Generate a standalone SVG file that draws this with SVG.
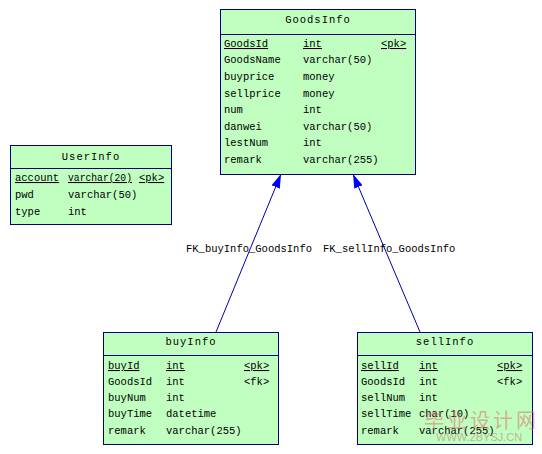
<svg xmlns="http://www.w3.org/2000/svg" width="542" height="454" viewBox="0 0 542 454">
<defs>
<style>
.box{fill:#c0ffc0;stroke:#000080;stroke-width:1}
.sep{stroke:#000080;stroke-width:1}
text{font-family:"Liberation Mono","DejaVu Sans Mono",monospace;font-size:10.5px;fill:#000}
.t{text-anchor:middle;letter-spacing:1px}
.u{text-decoration:underline}
.c{stroke:#0000a0;stroke-width:1;fill:none}
.wm{font-family:"Noto Sans CJK SC",sans-serif;font-size:20px;fill:#e07070;opacity:0.55}
.wm2{font-family:"Liberation Sans",sans-serif;font-size:11px;fill:#c08080;opacity:0.6}
</style>
<marker id="ar" viewBox="0 0 14 9" refX="14" refY="4.5" markerWidth="14" markerHeight="9" markerUnits="userSpaceOnUse" orient="auto">
<path d="M0,0 L14,4.5 L0,9 z" fill="#0000ff"/>
</marker>
</defs>
<rect width="542" height="454" fill="#fff"/>
<g id="connectors">
<line class="c" x1="216" y1="332" x2="281" y2="174" marker-end="url(#ar)"/>
<line class="c" x1="420" y1="332" x2="353" y2="174" marker-end="url(#ar)"/>
<text x="186" y="252">FK_buyInfo_GoodsInfo</text>
<text x="323" y="252">FK_sellInfo_GoodsInfo</text>
</g>
<g id="GoodsInfo">
<rect class="box" x="220.5" y="9.5" width="195" height="165"/>
<line class="sep" x1="220.5" y1="34.5" x2="415.5" y2="34.5"/>
<text class="t" x="318" y="23">GoodsInfo</text>
<text class="u" x="224" y="47">GoodsId</text><text class="u" x="303" y="47">int</text><text class="u" x="381" y="47">&lt;pk&gt;</text>
<text x="224" y="63">GoodsName</text><text x="303" y="63">varchar(50)</text>
<text x="224" y="80">buyprice</text><text x="303" y="80">money</text>
<text x="224" y="97">sellprice</text><text x="303" y="97">money</text>
<text x="224" y="113">num</text><text x="303" y="113">int</text>
<text x="224" y="130">danwei</text><text x="303" y="130">varchar(50)</text>
<text x="224" y="146">lestNum</text><text x="303" y="146">int</text>
<text x="224" y="163">remark</text><text x="303" y="163">varchar(255)</text>
</g>
<g id="UserInfo">
<rect class="box" x="10.5" y="145.5" width="161" height="79"/>
<line class="sep" x1="10.5" y1="168.5" x2="171.5" y2="168.5"/>
<text class="t" x="91" y="160">UserInfo</text>
<text class="u" x="15" y="181">account</text><text class="u" x="68" y="181" textLength="64" lengthAdjust="spacingAndGlyphs">varchar(20)</text><text class="u" x="139" y="181">&lt;pk&gt;</text>
<text x="15" y="198">pwd</text><text x="68" y="198">varchar(50)</text>
<text x="15" y="215">type</text><text x="68" y="215">int</text>
</g>
<g id="buyInfo">
<rect class="box" x="103.5" y="332.5" width="175" height="112"/>
<line class="sep" x1="103.5" y1="355.5" x2="278.5" y2="355.5"/>
<text class="t" x="191" y="345">buyInfo</text>
<text class="u" x="108" y="369">buyId</text><text class="u" x="166" y="369">int</text><text class="u" x="244" y="369">&lt;pk&gt;</text>
<text x="108" y="385">GoodsId</text><text x="166" y="385">int</text><text x="244" y="385">&lt;fk&gt;</text>
<text x="108" y="401">buyNum</text><text x="166" y="401">int</text>
<text x="108" y="417">buyTime</text><text x="166" y="417">datetime</text>
<text x="108" y="434">remark</text><text x="166" y="434">varchar(255)</text>
</g>
<g id="sellInfo">
<rect class="box" x="357.5" y="332.5" width="175" height="112"/>
<line class="sep" x1="357.5" y1="355.5" x2="532.5" y2="355.5"/>
<text class="t" x="445" y="345">sellInfo</text>
<text class="u" x="361" y="369">sellId</text><text class="u" x="419" y="369">int</text><text class="u" x="497" y="369">&lt;pk&gt;</text>
<text x="361" y="385">GoodsId</text><text x="419" y="385">int</text><text x="497" y="385">&lt;fk&gt;</text>
<text x="361" y="401">sellNum</text><text x="419" y="401">int</text>
<text x="361" y="417">sellTime</text><text x="419" y="417">char(10)</text>
<text x="361" y="434">remark</text><text x="419" y="434">varchar(255)</text>
</g>
<g id="watermark">
<text class="wm" x="424" y="428" letter-spacing="3">毕业设计网</text>
<text class="wm2" x="436" y="441">WWW.2BYSJ.CN</text>
</g>
</svg>
